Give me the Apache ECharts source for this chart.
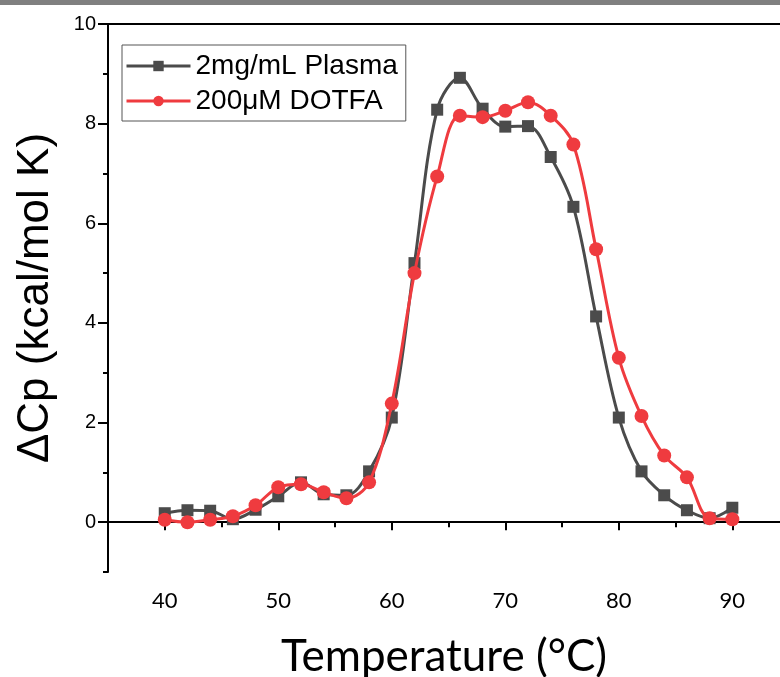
<!DOCTYPE html>
<html>
<head>
<meta charset="utf-8">
<script src="https://cdn.jsdelivr.net/npm/echarts@6/dist/echarts.min.js"></script>
<style>
  html, body { margin: 0; padding: 0; background: #fff; }
  #chart { width: 780px; height: 677px; }
</style>
</head>
<body>
<div id="chart"></div>
<script>
// Temperature scan points (°C)
const temperatures = [40, 42, 44, 46, 48, 50, 52, 54, 56, 58, 60, 62, 64, 66, 68, 70, 72, 74, 76, 78, 80, 82, 84, 86, 88, 90];

// Excess heat capacity, kcal/mol K
const plasma = [0.18, 0.24, 0.23, 0.06, 0.25, 0.52, 0.80, 0.56, 0.54, 1.02, 2.10, 5.20, 8.28, 8.92, 8.30, 7.94, 7.95, 7.33, 6.33, 4.13, 2.10, 1.02, 0.54, 0.24, 0.08, 0.29];
const dotfa  = [0.05, 0.00, 0.05, 0.12, 0.34, 0.70, 0.76, 0.60, 0.48, 0.80, 2.38, 5.00, 6.94, 8.16, 8.13, 8.26, 8.43, 8.16, 7.58, 5.48, 3.30, 2.13, 1.34, 0.90, 0.08, 0.06];

const seriesNames = ['2mg/mL Plasma', '200\u03bcM DOTFA'];

// Axis ticks
const xMajor = [40, 50, 60, 70, 80, 90];
const xMinor = [35, 45, 55, 65, 75, 85];
const yMajor = [0, 2, 4, 6, 8, 10];
const yMinor = [-1, 1, 3, 5, 7, 9];

const chart = echarts.init(document.getElementById('chart'), null, { renderer: 'canvas' });

const axisLine = { show: true, lineStyle: { color: '#000', width: 2 } };
const X_MIN = 35, X_MAX = 94.2;

chart.setOption({
  animation: false,
  backgroundColor: '#fff',
  graphic: [{
    type: 'rect',
    left: 0, top: 0,
    shape: { width: 780, height: 5 },
    style: { fill: '#808080' },
    z: 100
  }],
  grid: { left: 108, top: 24, right: 0, height: 548, outerBoundsMode: 'none', containLabel: false },
  legend: {
    left: 122, top: 45,
    orient: 'vertical',
    data: seriesNames,
    itemWidth: 64, itemHeight: 13, itemGap: 7,
    padding: [7, 8, 6, 3],
    borderColor: '#555', borderWidth: 1,
    lineStyle: { width: 3 },
    textStyle: { fontFamily: 'Liberation Sans, Arial', fontSize: 28, color: '#000' }
  },
  xAxis: [{
    type: 'value', min: X_MIN, max: X_MAX, position: 'bottom',
    name: 'Temperature (\u00b0C)', nameLocation: 'middle', nameGap: 63,
    nameTextStyle: { fontFamily: 'Lato', fontSize: 44, color: '#000' },
    axisLine: axisLine,
    axisTick: { show: true, customValues: xMajor, length: 8, lineStyle: { color: '#000', width: 2 } },
    axisLabel: { customValues: xMajor, fontFamily: 'Lato', fontSize: 22, color: '#000', margin: 18 },
    splitLine: { show: false }
  }, {
    type: 'value', min: X_MIN, max: X_MAX, position: 'bottom', offset: 0,
    axisLine: { show: false },
    axisTick: { show: true, customValues: xMinor, length: 5, lineStyle: { color: '#000', width: 2 } },
    axisLabel: { show: false },
    splitLine: { show: false }
  }, {
    // top frame line
    type: 'value', min: X_MIN, max: X_MAX, position: 'top', offset: 0,
    axisLine: axisLine,
    axisTick: { show: false },
    axisLabel: { show: false },
    splitLine: { show: false }
  }],
  yAxis: [{
    type: 'value', min: -1, max: 10, position: 'left',
    name: '\u0394Cp (kcal/mol K)', nameLocation: 'middle', nameGap: 50,
    nameTextStyle: { fontFamily: 'Liberation Sans, Arial', fontSize: 44, color: '#000' },
    axisLine: axisLine,
    axisTick: { show: true, customValues: yMajor, length: 10, lineStyle: { color: '#000', width: 2 } },
    axisLabel: { customValues: yMajor, fontFamily: 'Liberation Sans, Arial', fontSize: 20, color: '#000', margin: 12 },
    splitLine: { show: false }
  }, {
    type: 'value', min: -1, max: 10, position: 'left', offset: 0,
    axisLine: { show: false },
    axisTick: { show: true, customValues: yMinor, length: 5, lineStyle: { color: '#000', width: 2 } },
    axisLabel: { show: false },
    splitLine: { show: false }
  }],
  series: [{
    name: seriesNames[0],
    type: 'line',
    xAxisIndex: 0, yAxisIndex: 0,
    data: temperatures.map((t, i) => [t, plasma[i]]),
    smooth: 0.35,
    symbol: 'rect', symbolSize: 12,
    lineStyle: { color: '#4b4b4b', width: 3 },
    itemStyle: { color: '#4b4b4b' },
    z: 2
  }, {
    name: seriesNames[1],
    type: 'line',
    xAxisIndex: 0, yAxisIndex: 0,
    data: temperatures.map((t, i) => [t, dotfa[i]]),
    smooth: 0.35,
    symbol: 'circle', symbolSize: 14,
    lineStyle: { color: '#ef3b3f', width: 3 },
    itemStyle: { color: '#ef3b3f' },
    z: 3
  }]
});
</script>
</body>
</html>
